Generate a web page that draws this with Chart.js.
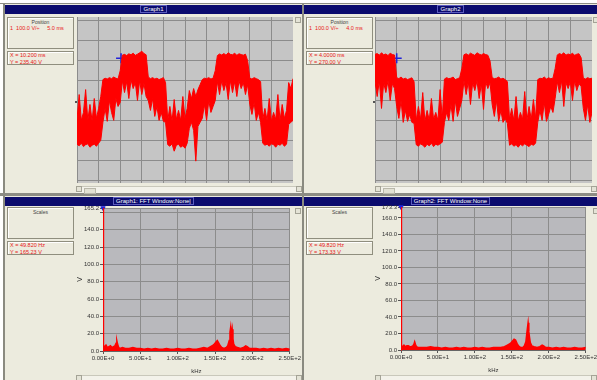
<!DOCTYPE html>
<html>
<head>
<meta charset="utf-8">
<script src="https://cdn.jsdelivr.net/npm/chart.js@4.4.0/dist/chart.umd.min.js"></script>
<style>
  html, body { margin: 0; padding: 0; background: #fff; }
  body { width: 597px; height: 380px; position: relative; overflow: hidden; font-family: "Liberation Sans", Arial, sans-serif; }
  .win { position: absolute; background: #ecebde; border-left: 2px solid #8a8a80; box-sizing: border-box; }
  .title { position: absolute; left: 0; right: 0; top: 1px; height: 9px; background: #0b0b6e; color: #fff; font-size: 6px; line-height: 9px; text-align: center; white-space: nowrap; }
  .title span { border: 1px solid #5c5cc0; padding: 0 2px; }
  .box { position: absolute; left: 2px; width: 67px; border: 1px solid #8f8e7e; box-shadow: inset 1px 1px 0 #fff; box-sizing: border-box; }
  .hdr { text-align: center; color: #444; font-size: 5px; line-height: 6px; margin-top: 1px; }
  .red { color: #e81818; font-size: 5.5px; line-height: 6.5px; padding-left: 2px; white-space: pre; }
  .hscroll { position: absolute; height: 7px; background: #f3f2ea; border-top: 1px solid #c9c8bb; box-sizing: border-box; }
  .hscroll .thumb { position: absolute; left: 8px; top: 1px; width: 10px; height: 4px; background: #e2e1d4; border: 1px solid #b9b8aa; }
  .arrow { position: absolute; width: 6px; height: 6px; background: #e4e3d6; border: 1px solid #a4a396; box-sizing: border-box; }
  .sep { position: absolute; left: 0; width: 597px; background: #8c8c84; }
  canvas { position: absolute; }
  .zero { position: absolute; width: 2px; height: 2px; background: #555; }
</style>
</head>
<body>
<div class="sep" style="top:3px;height:1px;"></div>
<div class="sep" style="top:193px;height:3px;"></div>

<div class="win" style="left:3px;top:4px;width:299px;height:189px;">
  <div class="title"><span>Graph1</span></div>
  <div class="box" style="top:13px;height:32px;">
    <div class="hdr">Position</div>
    <div class="red">1  100.0 V/÷     5.0 ms</div>
  </div>
  <div class="box" style="top:47px;height:14px;">
    <div class="red">X = 10.200 ms
Y = 235.40 V</div>
  </div>
  <div class="arrow" style="left:290px;top:13px;"></div>
  <div class="hscroll" style="left:71px;top:182px;width:226px;"><div class="thumb"></div></div>
  <div class="arrow" style="left:71px;top:182px;"></div>
  <div class="arrow" style="left:291px;top:182px;"></div>
  <div class="zero" style="left:70px;top:97px;"></div>
</div>

<div class="win" style="left:302px;top:4px;width:295px;height:189px;">
  <div class="title"><span>Graph2</span></div>
  <div class="box" style="top:13px;height:32px;">
    <div class="hdr">Position</div>
    <div class="red">1  100.0 V/÷     4.0 ms</div>
  </div>
  <div class="box" style="top:47px;height:14px;">
    <div class="red">X = 4.0000 ms
Y = 270.00 V</div>
  </div>
  <div class="arrow" style="left:289px;top:13px;"></div>
  <div class="hscroll" style="left:71px;top:182px;width:222px;"><div class="thumb"></div></div>
  <div class="arrow" style="left:71px;top:182px;"></div>
  <div class="arrow" style="left:287px;top:182px;"></div>
  <div class="zero" style="left:69px;top:97px;"></div>
</div>

<div class="win" style="left:3px;top:196px;width:299px;height:184px;">
  <div class="title"><span>Graph1: FFT Window:None|</span></div>
  <div class="box" style="top:11px;height:32px;">
    <div class="hdr">Scales</div>
  </div>
  <div class="box" style="top:45px;height:14px;">
    <div class="red">X = 49.820 Hz
Y = 165.23 V</div>
  </div>
  <div class="arrow" style="left:290px;top:12px;"></div>
  <div class="hscroll" style="left:71px;top:179px;width:226px;"></div>
  <div class="arrow" style="left:71px;top:179px;"></div>
  <div class="arrow" style="left:291px;top:179px;"></div>
</div>

<div class="win" style="left:302px;top:196px;width:295px;height:184px;">
  <div class="title"><span>Graph2: FFT Window:None</span></div>
  <div class="box" style="top:11px;height:32px;">
    <div class="hdr">Scales</div>
  </div>
  <div class="box" style="top:45px;height:14px;">
    <div class="red">X = 49.820 Hz
Y = 173.33 V</div>
  </div>
  <div class="arrow" style="left:289px;top:12px;"></div>
  <div class="hscroll" style="left:71px;top:179px;width:222px;"></div>
  <div class="arrow" style="left:71px;top:179px;"></div>
  <div class="arrow" style="left:287px;top:179px;"></div>
</div>

<canvas id="g1" width="216" height="166" style="left:77px;top:17px;"></canvas>
<canvas id="g2" width="217" height="166" style="left:375px;top:17px;"></canvas>
<canvas id="f1" width="226" height="172" style="left:76px;top:203px;"></canvas>
<canvas id="f2" width="224" height="172" style="left:374px;top:202px;"></canvas>

<script>
// ---- time traces (V), sampled every 0.5 ms (Graph1) / 0.4 ms (Graph2) ----
const g1Step = 0.5, g1Span = 50;
const g2Step = 0.4, g2Span = 40;

const g1Upper = [
  -95, 30, -100, -60, 55, -100, -20, -105, 10, -90, -40, 20,
  105, 112, 108, 115, 110, 118, 112, 108, 150,
  228, 232, 226, 235, 230, 238, 227, 233, 240, 248, 236, 230,
  118, 110, 115, 108, 112, 105, 110, 115, 90,
  -100, -30, -105, 5, -95, -50, -100, 20, -90, -40,
  50, 10, 60, 20, 55, 80,
  105, 112, 110, 115, 108, 112, 150,
  226, 234, 229, 236, 228, 240, 232, 230, 238, 227, 235, 231, 228, 233, 200,
  112, 108, 115, 110, 105, 95,
  -95, -40, -100, 10, -105, -60, -95, 30, -100, -20, -90, -50,
  90, 60, 110
];
const g1Lower = [
  -220, -228, -215, -232, -222, -218, -235, -225, -220, -230, -215, -200,
  -110, -40, -105, 0, -60, -100, 10, -30, -10,
  100, 40, 95, 10, 105, 60, 90, 0, 100, 30, 85, 20,
  0, -50, 10, -80, -30, -100, -60, -105, -110,
  -222, -230, -218, -255, -225, -220, -235, -228, -240, -215,
  -140, -110, -150, -305, -130, -110,
  -90, -20, -100, 0, -60, -30, 0,
  95, 30, 100, 50, 90, 5, 100, 40, 95, 20, 100, 60, 90, 30, 80,
  -20, -70, -10, -100, -60, -110,
  -215, -225, -220, -230, -218, -222, -235, -220, -225, -215, -230, -220,
  -120, -110, -100
];

const g2Upper = [
  232, 236, 228, 240, 230, 234, 226, 238, 231, 229,
  115, 110, 118, 108, 112, 105, 110, 114, 95,
  -100, -30, -95, 40, -105, -50, -100, 10, -95, -60, -100, 55, -90,
  108, 115, 110, 112, 118, 105, 110, 114, 160,
  230, 235, 228, 238, 232, 227, 240, 233, 229, 236, 231, 228, 200,
  115, 110, 112, 118, 108, 112, 105, 95,
  -95, -40, -100, 20, -105, -60, -95, 45, -100, -30, -95, 5, -90,
  105, 112, 110, 118, 108, 114, 110, 112, 160,
  229, 236, 231, 240, 228, 234, 230, 238, 227, 233, 235, 215,
  112, 108, 115, 110, 112
];
const g2Lower = [
  95, 20, 100, -40, 90, 40, 100, 0, 85, 60,
  -30, -90, 0, -110, -50, -105, -70, -110, -115,
  -222, -230, -218, -225, -235, -220, -228, -215, -232, -220, -225, -218, -210,
  -110, -60, -100, -20, -105, 0, -80, -40, 0,
  100, 30, 95, -20, 90, 50, 100, 10, 85, -45, 95, 60, 90,
  -20, -80, 0, -105, -50, -110, -90, -115,
  -225, -218, -230, -222, -235, -220, -228, -218, -225, -232, -220, -225, -215,
  -110, -50, -100, -10, -105, -70, -30, -60, 10,
  95, 40, 100, -30, 90, 60, 95, 0, 100, 50, 85, 70,
  -40, -100, -20, -110, -60
];

const g1Cursor = { x: 10.2, y: 212 };
const g2Cursor = { x: 4.0, y: 212 };

const scopeYTicks = [-400, -300, -200, -100, 0, 100, 200, 300, 400];
const g1XTicks = [0, 5, 10, 15, 20, 25, 30, 35, 40, 45, 50];
const g2XTicks = [0, 4, 8, 12, 16, 20, 24, 28, 32, 36, 40];

// ---- FFT spectra (kHz / V) ----
const fftFreq = [
  0, 0.6, 2, 4, 6, 8, 10, 12, 14, 16, 17.5, 18.5, 19.5, 21, 23, 26, 30, 35, 40, 45,
  50, 55, 60, 65, 70, 75, 80, 85, 90, 95, 100, 105, 110, 115, 120, 125, 130, 135, 140, 144,
  148, 151, 153, 155, 157, 159, 162, 165, 167, 169, 170, 171, 172, 173, 174, 175, 177, 180, 184, 188,
  191, 193, 196, 200, 205, 210, 215, 220, 225, 230, 235, 240, 245, 250
];
const fft1Amp = [
  165.2, 6, 5, 7, 4, 5, 6, 4, 5, 6, 9, 12, 8, 4, 3, 4, 3, 3, 4, 3,
  3, 2, 3, 2, 3, 2, 2, 3, 2, 2, 3, 2, 2, 3, 2, 2, 3, 4, 3, 5,
  7, 10, 12, 9, 6, 4, 3, 4, 6, 12, 22, 28, 18, 25, 14, 8, 5, 4, 3, 4,
  6, 5, 3, 3, 3, 2, 3, 2, 3, 2, 3, 2, 3, 2
];
const fft2Amp = [
  173.3, 5, 4, 6, 4, 5, 5, 4, 4, 5, 7, 10, 7, 4, 3, 3, 3, 3, 4, 3,
  3, 2, 3, 2, 2, 3, 2, 3, 2, 2, 3, 2, 3, 2, 2, 3, 3, 3, 4, 6,
  8, 11, 13, 12, 8, 5, 3, 3, 5, 10, 18, 26, 33, 22, 15, 9, 5, 4, 3, 4,
  6, 5, 3, 3, 2, 3, 2, 3, 2, 2, 3, 2, 2, 3
];
const fftXTicks = [0, 50, 100, 150, 200, 250];
const fft1YTicks = [0, 20, 40, 60, 80, 100, 120, 140, 160, 165.2];
const fft2YTicks = [0, 20, 40, 60, 80, 100, 120, 140, 160, 173.3];

const RED = '#ff0000';
const CURSOR = '#2323d8';

const plotBg = {
  id: 'plotBg',
  beforeDraw(chart, args, opts) {
    const { ctx, chartArea: a } = chart;
    ctx.save();
    ctx.fillStyle = opts.color;
    ctx.fillRect(a.left, a.top, a.width, a.height);
    ctx.restore();
  }
};

function setTicks(list) {
  return (scale) => { scale.ticks = list.map(v => ({ value: v })); };
}

function scopeChart(id, step, span, upper, lower, cursor, xTicks) {
  const times = upper.map((_, i) => i * step);
  new Chart(document.getElementById(id), {
    type: 'line',
    data: {
      datasets: [
        { data: times.map((t, i) => ({ x: t, y: upper[i] })), borderColor: RED, borderWidth: 1,
          pointRadius: 0, fill: '+1', backgroundColor: RED },
        { data: times.map((t, i) => ({ x: t, y: lower[i] })), borderColor: RED, borderWidth: 1,
          pointRadius: 0, fill: false },
        { data: [cursor], showLine: false, pointStyle: 'cross', pointRadius: 5,
          borderColor: CURSOR, borderWidth: 1.5 }
      ]
    },
    options: {
      responsive: false, animation: false, events: [],
      layout: { padding: 0, autoPadding: false },
      plugins: { legend: { display: false }, tooltip: { enabled: false }, plotBg: { color: '#c5c5c5' } },
      scales: {
        x: { type: 'linear', min: 0, max: span, afterBuildTicks: setTicks(xTicks),
             ticks: { display: false }, grid: { color: '#8c8c8c', drawTicks: false }, border: { display: false } },
        y: { type: 'linear', min: -415, max: 420, afterBuildTicks: setTicks(scopeYTicks),
             ticks: { display: false }, grid: { color: '#8c8c8c', drawTicks: false }, border: { display: false } }
      }
    },
    plugins: [plotBg]
  });
}

function fftChart(id, amp, yTicks) {
  const yMax = yTicks[yTicks.length - 1];
  new Chart(document.getElementById(id), {
    type: 'line',
    data: {
      datasets: [
        { data: fftFreq.map((f, i) => ({ x: f, y: amp[i] })), borderColor: RED, borderWidth: 1.5,
          pointRadius: 0, fill: 'origin', backgroundColor: RED },
        { data: [{ x: 0, y: yMax }], showLine: false, pointStyle: 'triangle', rotation: 180,
          pointRadius: 2.5, backgroundColor: CURSOR, borderColor: CURSOR, clip: false }
      ]
    },
    options: {
      responsive: false, animation: false, events: [],
      layout: { padding: { top: 5, right: 10 }, autoPadding: false },
      plugins: { legend: { display: false }, tooltip: { enabled: false }, plotBg: { color: '#b9b9bd' } },
      scales: {
        x: { type: 'linear', min: 0, max: 250, afterBuildTicks: setTicks(fftXTicks),
             afterFit: (s) => { s.height = 24; },
             ticks: { autoSkip: false, maxRotation: 0, padding: 1, color: '#333', font: { size: 6 },
                      callback: (v) => v.toExponential(2).toUpperCase() },
             grid: { color: '#8c8c8c', tickLength: 3, tickColor: '#555' },
             border: { color: '#666' },
             title: { display: true, text: 'kHz', color: '#333', font: { size: 6 }, padding: 0 } },
        y: { type: 'linear', min: 0, max: yMax, afterBuildTicks: setTicks(yTicks),
             afterFit: (s) => { s.width = 27; },
             ticks: { autoSkip: false, padding: 1, color: '#333', font: { size: 6 },
                      callback: (v) => (v !== yMax && yMax - v < 8) ? '' : v.toFixed(1) },
             grid: { color: '#8c8c8c', tickLength: 3, tickColor: '#555' },
             border: { color: '#c03030' },
             title: { display: true, text: 'V', color: '#333', font: { size: 7 }, padding: 0 } }
      }
    },
    plugins: [plotBg]
  });
}

scopeChart('g1', g1Step, g1Span, g1Upper, g1Lower, g1Cursor, g1XTicks);
scopeChart('g2', g2Step, g2Span, g2Upper, g2Lower, g2Cursor, g2XTicks);
fftChart('f1', fft1Amp, fft1YTicks);
fftChart('f2', fft2Amp, fft2YTicks);
</script>
</body>
</html>
